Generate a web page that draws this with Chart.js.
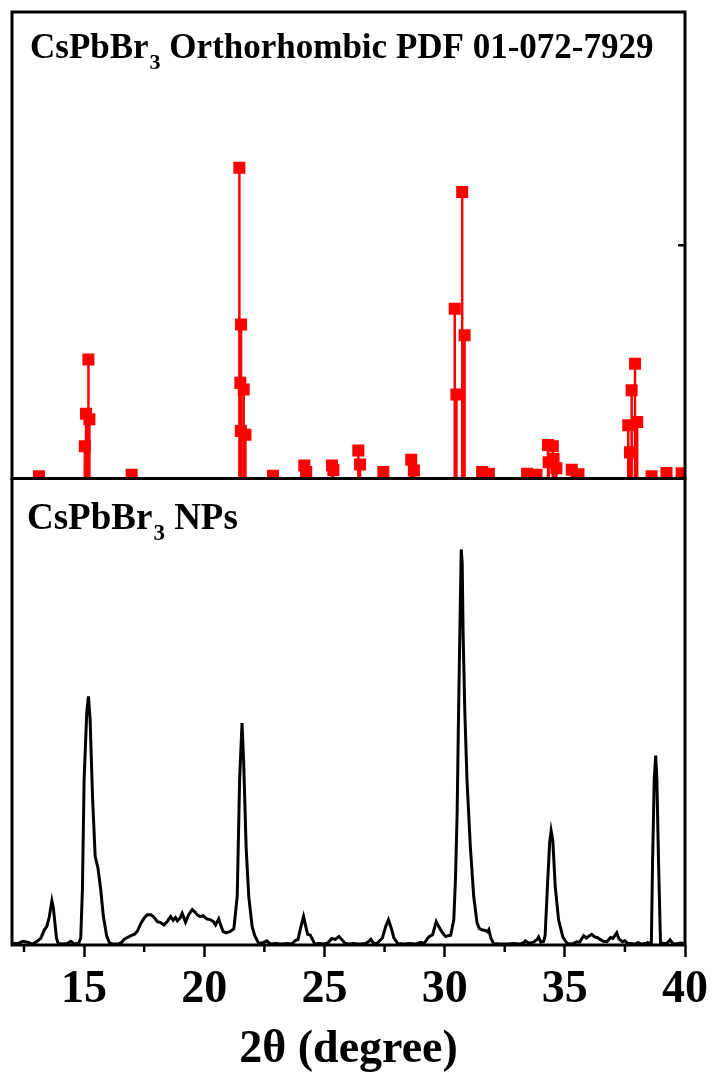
<!DOCTYPE html>
<html>
<head>
<meta charset="utf-8">
<script src="https://cdn.jsdelivr.net/npm/chart.js@4/dist/chart.umd.min.js"></script>
<style>
  html, body { margin: 0; padding: 0; background: #fff; }
  #wrap { width: 714px; height: 1076px; position: relative; }
</style>
</head>
<body>
<div id="wrap"><canvas id="xrd" width="714" height="1076"></canvas></div>
<script>
// === Reference card CsPbBr3 orthorhombic (PDF 01-072-7929): 2theta / rel. intensity ===
const refAngles = [13.12, 15.03, 15.08, 15.18, 15.22, 16.98, 21.46, 21.50, 21.52, 21.53,
  21.64, 21.71, 22.86, 24.16, 24.24, 25.31, 25.37, 26.41, 26.48, 27.45, 28.61, 28.72,
  30.42, 30.49, 30.73, 30.83, 31.56, 31.84, 33.43, 33.82, 34.30, 34.33, 34.50, 34.53,
  34.65, 35.29, 35.57, 37.64, 37.71, 37.78, 37.92, 38.01, 38.61, 39.23, 39.86];
const refIntensity = [0.5, 6.9, 13.9, 25.5, 12.7, 0.8, 66.6, 20.5, 10.2, 33.0,
  19.1, 9.4, 0.6, 2.8, 1.4, 2.8, 1.8, 6.0, 3.0, 1.4, 4.0, 1.7,
  36.4, 18.0, 61.4, 30.7, 1.4, 1.0, 1.0, 0.8, 7.2, 3.5, 6.9, 4.2,
  2.2, 1.9, 0.9, 11.4, 5.6, 18.9, 24.6, 12.1, 0.5, 1.2, 1.1];

// === Measured pattern, CsPbBr3 NPs ===
const scanAngles = [12.05, 12.24, 12.45, 12.65, 12.85, 13.05, 13.2, 13.34, 13.45, 13.55,
  13.66, 13.72, 13.78, 13.85, 13.92, 14.1, 14.3, 14.45, 14.6, 14.78,
  14.86, 14.93, 15.0, 15.11, 15.18, 15.25, 15.35, 15.46, 15.58, 15.69,
  15.8, 15.94, 16.05, 16.2, 16.4, 16.55, 16.66, 16.8, 16.95, 17.1,
  17.22, 17.35, 17.5, 17.63, 17.78, 17.9, 18.05, 18.18, 18.32, 18.45,
  18.6, 18.7, 18.8, 18.88, 19.0, 19.08, 19.22, 19.35, 19.5, 19.62,
  19.72, 19.84, 19.95, 20.1, 20.26, 20.38, 20.47, 20.6, 20.7, 20.78,
  20.9, 21.08, 21.23, 21.37, 21.47, 21.57, 21.64, 21.74, 21.85, 21.99,
  22.1, 22.26, 22.45, 22.6, 22.75, 22.95, 23.2, 23.45, 23.62, 23.78,
  23.9, 24.0, 24.13, 24.22, 24.3, 24.41, 24.52, 24.6, 24.8, 24.95,
  25.15, 25.3, 25.45, 25.6, 25.72, 25.85, 26.0, 26.2, 26.45, 26.7,
  26.85, 26.93, 27.05, 27.2, 27.41, 27.55, 27.66, 27.78, 27.89, 28.05,
  28.3, 28.55, 28.8, 29.0, 29.15, 29.35, 29.5, 29.65, 29.75, 29.83,
  29.93, 30.04, 30.15, 30.25, 30.38, 30.45, 30.52, 30.58, 30.63, 30.69,
  30.73, 30.77, 30.84, 30.93, 31.07, 31.21, 31.35, 31.45, 31.58, 31.7,
  31.78, 31.84, 31.92, 32.04, 32.3, 32.6, 32.9, 33.1, 33.3, 33.36,
  33.5, 33.7, 33.85, 33.91, 34.0, 34.12, 34.18, 34.29, 34.37, 34.43,
  34.5, 34.6, 34.74, 34.92, 35.1, 35.3, 35.5, 35.62, 35.78, 35.9,
  36.0, 36.12, 36.25, 36.35, 36.47, 36.6, 36.75, 36.9, 37.0, 37.16,
  37.25, 37.4, 37.5, 37.6, 37.75, 37.9, 38.05, 38.2, 38.35, 38.45,
  38.6, 38.65, 38.72, 38.78, 38.83, 38.9, 38.98, 39.1, 39.25, 39.38,
  39.48, 39.6, 39.8, 39.95];
const scanCounts = [0.3, 0.3, 0.8, 0.6, 0.2, 0.8, 1.5, 3.2, 4.0, 6.0,
  9.5, 8.0, 5.0, 1.5, 0.3, 0.2, 0.3, 0.8, 0.2, 0.4,
  1.5, 12, 35.4, 49.8, 53.3, 48.3, 31.8, 19, 16.4, 11.9,
  6.2, 1.9, 0.5, 0.2, 0.2, 0.5, 1.2, 1.6, 2.0, 2.3,
  3.0, 4.5, 5.8, 6.5, 6.5, 6.0, 5.0, 4.8, 4.3, 5.0,
  6.1, 5.3, 5.9, 5.2, 5.8, 6.8, 4.9, 6.5, 7.6, 7.0,
  6.4, 6.1, 6.3, 5.6, 5.4, 5.0, 4.3, 5.6, 4.0, 2.9,
  2.6, 2.9, 3.5, 10.4, 35.4, 47.6, 39, 21, 10.4, 4.0,
  2.0, 0.4, 0.5, 0.9, 0.2, 0.3, 0.2, 0.3, 0.2, 0.9,
  1.2, 3.5, 6.1, 4.0, 2.3, 2.1, 1.0, 0.2, 0.3, 0.2,
  0.5, 1.4, 1.2, 1.8, 1.2, 0.4, 0.2, 0.3, 0.2, 0.3,
  0.8, 1.2, 0.3, 0.4, 1.5, 4.0, 5.4, 3.6, 1.5, 0.3,
  0.2, 0.3, 0.2, 0.6, 0.4, 1.8, 2.2, 5.0, 4.0, 3.3,
  2.5, 1.8, 2.0, 2.1, 5.4, 14, 28.3, 50, 66.2, 84.8,
  82, 66.2, 50, 35.4, 21, 10.4, 4.7, 3.5, 3.2, 3.1,
  2.8, 3.3, 1.5, 0.3, 0.2, 0.2, 0.3, 0.2, 0.5, 0.9,
  0.4, 0.6, 1.2, 1.7, 0.6, 0.8, 2.0, 14, 22, 24.5,
  22.4, 12.6, 5.4, 1.7, 0.3, 0.2, 0.7, 0.6, 2.0, 1.5,
  1.9, 2.3, 1.7, 1.6, 1.2, 0.8, 0.7, 1.6, 1.4, 2.6,
  1.3, 0.7, 0.9, 0.4, 0.3, 0.2, 0.5, 0.2, 0.3, 0.5,
  0.3, 17.6, 35.4, 40.6, 35.4, 17.6, 0.5, 0.3, 0.4, 1.1,
  0.4, 0.2, 0.4, 0.3];

// === Axis ticks / labels ===
const xTicks = [15, 20, 25, 30, 35, 40];
const xMinorTicks = [12.5, 17.5, 22.5, 27.5, 32.5, 37.5];
const topRightTicks = [50];
const xTitle = "2\u03b8 (degree)";
const refLabel = ["CsPbBr", "3", " Orthorhombic PDF 01-072-7929"];
const npLabel = ["CsPbBr", "3", " NPs"];

const SERIF = "'Liberation Serif', 'Times New Roman', serif";

// === Build stick data (drop line + square marker on top) ===
const stickData = [];
refAngles.forEach((a, i) => {
  stickData.push({ x: a, y: 0 }, { x: a, y: refIntensity[i], top: true }, { x: a, y: null });
});
const scanData = scanAngles.map((a, i) => ({ x: a, y: scanCounts[i] }));

// label with subscript
function drawFormula(ctx, parts, x, y, size) {
  ctx.fillStyle = "#000";
  ctx.textBaseline = "alphabetic";
  ctx.textAlign = "left";
  ctx.font = `bold ${size}px ${SERIF}`;
  ctx.fillText(parts[0], x, y);
  x += ctx.measureText(parts[0]).width + 1;
  ctx.font = `bold ${Math.round(size * 0.62)}px ${SERIF}`;
  ctx.fillText(parts[1], x, y + size * 0.3);
  x += ctx.measureText(parts[1]).width;
  ctx.font = `bold ${size}px ${SERIF}`;
  ctx.fillText(parts[2], x, y);
}

// === Plugin: clip each panel, frames, minor ticks, labels ===
const panels = {
  id: "panels",
  beforeDatasetDraw(chart, args) {
    const ds = chart.data.datasets[args.index];
    const s = chart.scales[ds.yAxisID];
    const { ctx, chartArea } = chart;
    ctx.save();
    ctx.beginPath();
    ctx.rect(chartArea.left, s.top, chartArea.right - chartArea.left, s.bottom - s.top);
    ctx.clip();
  },
  afterDatasetDraw(chart) {
    chart.ctx.restore();
  },
  afterDraw(chart) {
    const { ctx, chartArea, scales } = chart;
    ctx.save();
    ctx.strokeStyle = "#000";
    ctx.lineWidth = 3;
    [scales.yTop, scales.yBot].forEach((s) => {
      ctx.strokeRect(chartArea.left, s.top, chartArea.right - chartArea.left, s.bottom - s.top);
    });
    ctx.lineWidth = 2.5;
    ctx.beginPath();
    xMinorTicks.forEach((v) => {
      const px = scales.x.getPixelForValue(v);
      ctx.moveTo(px, chartArea.bottom);
      ctx.lineTo(px, chartArea.bottom + 7);
    });
    topRightTicks.forEach((v) => {
      const py = scales.yTop.getPixelForValue(v);
      ctx.moveTo(chartArea.right, py);
      ctx.lineTo(chartArea.right - 7, py);
    });
    ctx.stroke();
    drawFormula(ctx, refLabel, chartArea.left + 18, scales.yTop.top + 46, 35);
    drawFormula(ctx, npLabel, chartArea.left + 15, scales.yBot.top + 50, 37);
    ctx.restore();
  },
};

new Chart(document.getElementById("xrd"), {
  type: "scatter",
  data: {
    datasets: [
      {
        data: stickData,
        yAxisID: "yTop",
        showLine: true,
        spanGaps: false,
        borderColor: "#ff0000",
        backgroundColor: "#ff0000",
        borderWidth: 2.5,
        pointStyle: "rect",
        pointRadius: (c) => (c.raw && c.raw.top ? 8.5 : 0),
        pointBorderWidth: 0,
        pointHoverRadius: 0,
      },
      {
        data: scanData,
        yAxisID: "yBot",
        showLine: true,
        borderColor: "#000",
        borderWidth: 3,
        pointRadius: 0,
        tension: 0,
      },
    ],
  },
  options: {
    responsive: false,
    animation: false,
    events: [],
    layout: { padding: { left: 12, right: 28, top: 12, bottom: 0 } },
    plugins: { legend: { display: false }, tooltip: { enabled: false } },
    scales: {
      x: {
        type: "linear",
        position: "bottom",
        min: 12,
        max: 40,
        afterBuildTicks: (s) => { s.ticks = xTicks.map((v) => ({ value: v })); },
        afterFit: (s) => { s.height = 131; },
        ticks: {
          autoSkip: false,
          maxRotation: 0,
          color: "#000",
          padding: 6,
          font: { family: SERIF, size: 46, weight: "bold" },
        },
        grid: { drawOnChartArea: false, tickLength: 12, tickWidth: 2.5, tickColor: "#000" },
        border: { display: false },
        title: {
          display: true,
          text: xTitle,
          color: "#000",
          padding: { top: 0, bottom: -2 },
          font: { family: SERIF, size: 46, weight: "bold" },
        },
      },
      yTop: {
        type: "linear", position: "left", stack: "panels", stackWeight: 1, weight: 1,
        min: 0, max: 100,
        ticks: { display: false },
        grid: { display: false, drawTicks: false },
        border: { display: false },
      },
      yBot: {
        type: "linear", position: "left", stack: "panels", stackWeight: 1, weight: 0,
        min: 0, max: 100,
        ticks: { display: false },
        grid: { display: false, drawTicks: false },
        border: { display: false },
      },
    },
  },
  plugins: [panels],
});
</script>
</body>
</html>
